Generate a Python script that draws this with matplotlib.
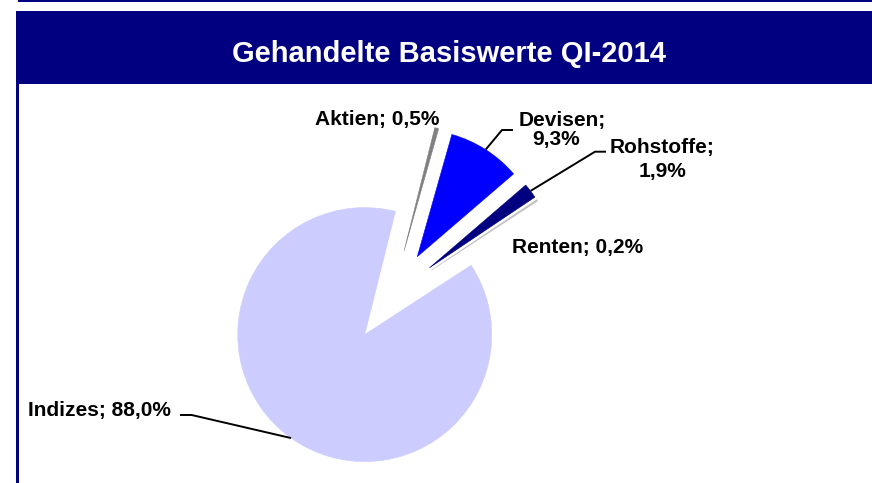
import numpy as np
import matplotlib
matplotlib.use("Agg")
from matplotlib import pyplot as plt
from matplotlib.patches import Rectangle

W, H = 872, 483

# data
names = ["Aktien", "Devisen", "Rohstoffe", "Renten", "Indizes"]
shares = [0.5, 9.3, 1.9, 0.2, 88.0]
colors = ["#808080", "#0000FF", "#000080", "#C0C0C0", "#CCCCFF"]
title = "Gehandelte Basiswerte QI-2014"

# label layout in pixels from top-left: one (x, baseline) per text line
label_lines = {
    "Aktien": [(377, 125)],
    "Devisen": [(562, 125.7), (556, 145.5)],
    "Rohstoffe": [(662, 153), (663, 176.7)],
    "Renten": [(578, 253.3)],
    "Indizes": [(99, 416)],
}
# leader lines: elbow and end point (pixels), start is the wedge tip
leaders = {
    "Devisen": [(502, 130), (513, 130)],
    "Rohstoffe": [(595, 151.7), (606, 151.7)],
    "Indizes": [(191.7, 415), (180, 415)],
}

plt.rcParams["font.family"] = ["Liberation Sans", "DejaVu Sans"]
navy = "#000080"

fig = plt.figure(figsize=(W / 100, H / 100), dpi=100)
ax = fig.add_axes([0, 0, 1, 1])

# explode is in data units here (pixels), not a fraction of the radius
wedges, _ = ax.pie(shares, colors=colors, startangle=76, counterclock=False,
                   explode=[47] * len(shares), radius=127,
                   center=(392, H - 296.3),
                   wedgeprops=dict(linewidth=0.4))
for w, c in zip(wedges, colors):
    w.set_edgecolor(c)

ax.set_xlim(0, W)
ax.set_ylim(0, H)
ax.set_aspect("equal")
ax.axis("off")

# frame pieces
ax.add_patch(Rectangle((18, H - 2.3), W, 2.3, color=navy, lw=0))
ax.add_patch(Rectangle((16, H - 84), W, 73, color=navy, lw=0))
ax.add_patch(Rectangle((16, 0), 3, H - 84, color=navy, lw=0))
ax.text(448.5, H - 61.7, title, color="white", fontsize=21,
        fontweight="bold", ha="center", va="baseline")

for w, name, val in zip(wedges, names, shares):
    pct = f"{val:.1f}%".replace(".", ",")
    lines = label_lines[name]
    if len(lines) == 1:
        texts = [f"{name}; {pct}"]
    else:
        texts = [f"{name};", pct]
    for (x, y), t in zip(lines, texts):
        ax.text(x, H - y, t, fontsize=15, fontweight="bold",
                ha="center", va="baseline")
    if name in leaders:
        mid = np.deg2rad((w.theta1 + w.theta2) / 2)
        x0 = w.center[0] + w.r * np.cos(mid)
        y0 = w.center[1] + w.r * np.sin(mid)
        xs = [x0] + [p[0] for p in leaders[name]]
        ys = [y0] + [H - p[1] for p in leaders[name]]
        ax.plot(xs, ys, color="black", lw=1.4, solid_capstyle="butt")

fig.savefig("out.png", dpi=100)
